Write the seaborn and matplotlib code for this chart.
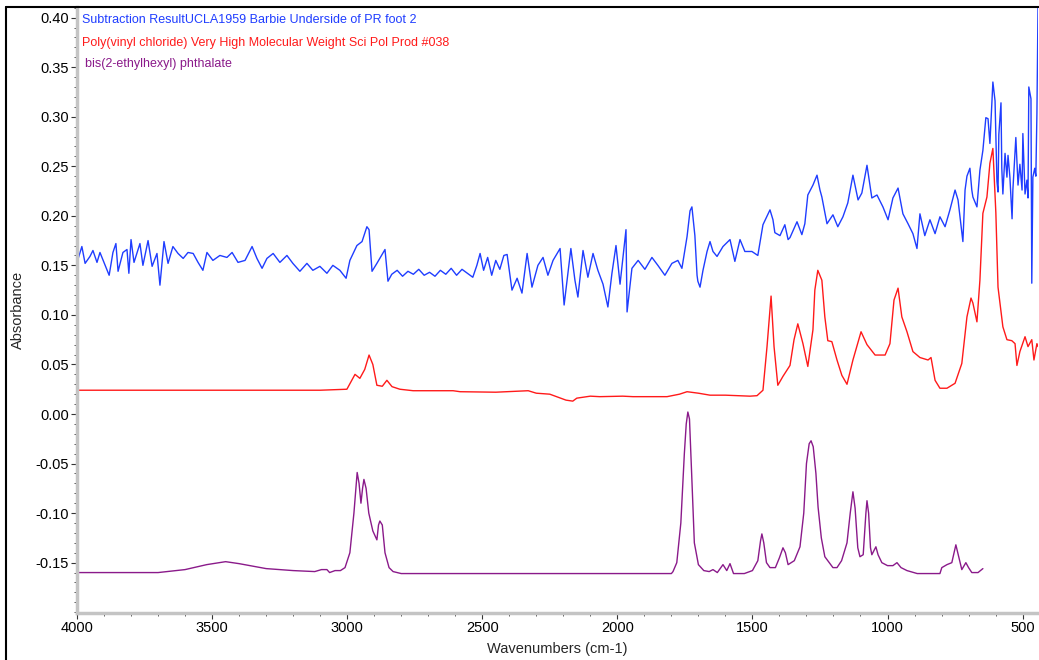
import numpy as np
import pandas as pd
import matplotlib
matplotlib.use("Agg")
import matplotlib.pyplot as plt
from matplotlib.ticker import MultipleLocator, FormatStrFormatter
from matplotlib.lines import Line2D
import seaborn as sns

# ---------------- data ----------------
blue_wn = [4000, 3982, 3970, 3952, 3941, 3926, 3915, 3896, 3881, 3867, 3856, 3848, 3830, 3815, 3808, 3800,
           3789, 3767, 3756, 3737, 3722, 3704, 3693, 3678, 3663, 3645, 3626, 3607, 3589, 3570, 3552, 3534,
           3519, 3497, 3471, 3445, 3426, 3404, 3378, 3352, 3334, 3315, 3297, 3274, 3249, 3223, 3201, 3175,
           3149, 3127, 3101, 3075, 3053, 3027, 3004, 2990, 2964, 2945, 2927, 2919, 2908, 2890, 2860, 2849,
           2835, 2815, 2795, 2775, 2755, 2735, 2715, 2695, 2675, 2655, 2635, 2615, 2595, 2575, 2555, 2535,
           2520, 2508, 2495, 2480, 2465, 2450, 2435, 2420, 2408, 2390, 2371, 2353, 2334, 2316, 2294, 2275,
           2257, 2238, 2212, 2197, 2172, 2157, 2146, 2127, 2109, 2090, 2072, 2053, 2035, 2020, 2005, 1990,
           1968, 1964, 1946, 1923, 1898, 1872, 1850, 1824, 1798, 1776, 1761, 1742, 1731, 1724, 1713, 1705,
           1702, 1694, 1683, 1668, 1657, 1646, 1631, 1609, 1583, 1565, 1546, 1528, 1502, 1480, 1461, 1435,
           1424, 1417, 1398, 1380, 1368, 1361, 1335, 1317, 1306, 1295, 1276, 1261, 1250, 1243, 1224, 1202,
           1184, 1165, 1147, 1128, 1109, 1095, 1076, 1065, 1058, 1039, 1017, 998, 980, 961, 943, 924,
           906, 891, 880, 862, 843, 824, 806, 787, 769, 750, 739, 721, 713, 706, 695, 688,
           684, 669, 658, 647, 636, 628, 621, 614, 610, 602, 595, 591, 588, 580, 577, 573,
           565, 558, 554, 547, 539, 536, 525, 517, 510, 502, 499, 491, 484, 480, 477, 469,
           466, 462, 455, 451, 447, 443]
blue_abs = [0.153, 0.169, 0.152, 0.159, 0.165, 0.153, 0.163, 0.150, 0.140, 0.163, 0.172, 0.144, 0.163, 0.166, 0.142, 0.176,
            0.153, 0.172, 0.150, 0.175, 0.149, 0.162, 0.130, 0.174, 0.152, 0.169, 0.162, 0.157, 0.163, 0.162, 0.153, 0.145,
            0.163, 0.155, 0.160, 0.158, 0.163, 0.153, 0.155, 0.169, 0.157, 0.147, 0.157, 0.162, 0.153, 0.160, 0.152, 0.144,
            0.152, 0.145, 0.149, 0.142, 0.150, 0.145, 0.137, 0.155, 0.170, 0.174, 0.189, 0.186, 0.144, 0.152, 0.166, 0.134,
            0.141, 0.145, 0.139, 0.144, 0.141, 0.146, 0.140, 0.143, 0.139, 0.145, 0.141, 0.147, 0.140, 0.146, 0.142, 0.138,
            0.150, 0.162, 0.145, 0.158, 0.140, 0.155, 0.146, 0.160, 0.161, 0.125, 0.137, 0.122, 0.162, 0.128, 0.150, 0.158,
            0.140, 0.155, 0.167, 0.110, 0.167, 0.135, 0.118, 0.165, 0.138, 0.162, 0.145, 0.131, 0.108, 0.142, 0.170, 0.131,
            0.186, 0.103, 0.147, 0.155, 0.146, 0.158, 0.150, 0.140, 0.152, 0.155, 0.147, 0.179, 0.205, 0.209, 0.180, 0.140,
            0.134, 0.128, 0.145, 0.164, 0.174, 0.164, 0.159, 0.169, 0.176, 0.154, 0.176, 0.164, 0.164, 0.160, 0.191, 0.206,
            0.196, 0.183, 0.180, 0.191, 0.176, 0.178, 0.194, 0.181, 0.192, 0.221, 0.231, 0.241, 0.226, 0.219, 0.192, 0.201,
            0.189, 0.199, 0.213, 0.241, 0.216, 0.223, 0.251, 0.231, 0.218, 0.221, 0.209, 0.196, 0.218, 0.228, 0.202, 0.192,
            0.182, 0.167, 0.202, 0.180, 0.196, 0.182, 0.199, 0.189, 0.206, 0.226, 0.216, 0.174, 0.226, 0.240, 0.248, 0.226,
            0.219, 0.209, 0.246, 0.266, 0.299, 0.298, 0.273, 0.312, 0.335, 0.316, 0.235, 0.224, 0.282, 0.314, 0.248, 0.222,
            0.263, 0.239, 0.261, 0.239, 0.197, 0.226, 0.279, 0.231, 0.252, 0.226, 0.283, 0.222, 0.236, 0.218, 0.330, 0.318,
            0.132, 0.239, 0.248, 0.240, 0.303, 0.410]

red_wn = [4000, 3500, 3100, 3001, 2985, 2971, 2953, 2935, 2919, 2905, 2890, 2870, 2853, 2834, 2805, 2756,
          2608, 2582, 2450, 2330, 2300, 2250, 2190, 2165, 2150, 2100, 2065, 1980, 1942, 1816, 1770, 1742,
          1700, 1657, 1600, 1509, 1483, 1461, 1446, 1431, 1420, 1406, 1387, 1361, 1346, 1332, 1313, 1295,
          1276, 1269, 1258, 1243, 1232, 1221, 1206, 1187, 1169, 1150, 1128, 1098, 1076, 1046, 1009, 991,
          976, 961, 947, 928, 906, 880, 850, 839, 824, 806, 780, 750, 725, 706, 691, 684,
          669, 658, 647, 632, 621, 610, 599, 591, 573, 558, 540, 528, 521, 510, 491, 480,
          466, 458, 447, 443]
red_abs = [0.024, 0.024, 0.024, 0.025, 0.033, 0.040, 0.036, 0.045, 0.0595, 0.050, 0.029, 0.028, 0.034, 0.0276, 0.025, 0.0235,
           0.0235, 0.0225, 0.022, 0.0235, 0.021, 0.020, 0.014, 0.013, 0.016, 0.018, 0.0175, 0.018, 0.0175, 0.0175, 0.020, 0.0225,
           0.021, 0.019, 0.019, 0.018, 0.0185, 0.024, 0.068, 0.119, 0.068, 0.029, 0.038, 0.049, 0.075, 0.091, 0.071, 0.048,
           0.085, 0.125, 0.145, 0.135, 0.098, 0.074, 0.073, 0.0545, 0.039, 0.030, 0.0545, 0.083, 0.070, 0.0595, 0.0595, 0.071,
           0.115, 0.127, 0.098, 0.083, 0.063, 0.057, 0.0545, 0.057, 0.034, 0.026, 0.026, 0.031, 0.051, 0.098, 0.117, 0.112,
           0.093, 0.135, 0.2025, 0.219, 0.253, 0.268, 0.203, 0.128, 0.088, 0.075, 0.074, 0.071, 0.049, 0.063, 0.078, 0.068,
           0.075, 0.0545, 0.071, 0.068]

purple_wn = [4000, 3700, 3600, 3520, 3450, 3400, 3300, 3200, 3120, 3095, 3075, 3065, 3045, 3025, 3008, 2990,
             2975, 2963, 2956, 2949, 2943, 2938, 2930, 2920, 2905, 2890, 2884, 2879, 2870, 2860, 2845, 2830,
             2800, 2500, 2200, 1800, 1794, 1780, 1765, 1752, 1745, 1739, 1733, 1725, 1715, 1700, 1680, 1660,
             1646, 1630, 1609, 1595, 1583, 1570, 1530, 1500, 1480, 1470, 1465, 1458, 1448, 1435, 1415, 1400,
             1387, 1378, 1368, 1345, 1324, 1310, 1300, 1290, 1283, 1275, 1265, 1257, 1245, 1232, 1202, 1187,
             1170, 1150, 1138, 1128, 1120, 1110, 1102, 1090, 1080, 1076, 1070, 1063, 1058, 1043, 1035, 1021,
             1000, 980, 965, 950, 928, 890, 806, 799, 780, 762, 747, 740, 725, 710, 700, 688,
             665, 647]
purple_abs = [-0.160, -0.160, -0.157, -0.152, -0.149, -0.151, -0.156, -0.158, -0.159, -0.157, -0.157, -0.160, -0.158, -0.158, -0.155, -0.140,
              -0.100, -0.059, -0.070, -0.090, -0.075, -0.066, -0.075, -0.100, -0.118, -0.127, -0.112, -0.108, -0.112, -0.140, -0.155, -0.159,
              -0.161, -0.161, -0.161, -0.161, -0.159, -0.150, -0.110, -0.040, -0.010, 0.002, -0.005, -0.060, -0.130, -0.152, -0.158, -0.159,
              -0.157, -0.160, -0.152, -0.158, -0.151, -0.161, -0.161, -0.158, -0.148, -0.128, -0.121, -0.130, -0.150, -0.155, -0.155, -0.145,
              -0.135, -0.140, -0.152, -0.148, -0.134, -0.100, -0.050, -0.030, -0.027, -0.033, -0.060, -0.094, -0.125, -0.144, -0.155, -0.155,
              -0.148, -0.130, -0.100, -0.0785, -0.095, -0.135, -0.144, -0.142, -0.100, -0.0875, -0.100, -0.135, -0.142, -0.134, -0.142, -0.150,
              -0.153, -0.153, -0.150, -0.155, -0.158, -0.161, -0.161, -0.155, -0.152, -0.150, -0.132, -0.140, -0.157, -0.150, -0.155, -0.160,
              -0.160, -0.156]

series_names = ["Subtraction ResultUCLA1959 Barbie Underside of PR foot 2",
                "Poly(vinyl chloride) Very High Molecular Weight Sci Pol Prod #038",
                "bis(2-ethylhexyl) phthalate"]
series_colors = ["#1f3dff", "#ff1a1a", "#8a1a8a"]

x_ticks = [4000, 3500, 3000, 2500, 2000, 1500, 1000, 500]
y_ticks = [-0.15, -0.10, -0.05, 0.00, 0.05, 0.10, 0.15, 0.20, 0.25, 0.30, 0.35, 0.40]

# ---------------- plotting ----------------
sns.set_theme(style="ticks")
plt.rcParams["font.family"] = ["Liberation Sans", "DejaVu Sans"]

W, H = 1039, 660
fig = plt.figure(figsize=(W / 100, H / 100), dpi=100)
ax = fig.add_axes([77 / W, 47 / H, (1038 - 77) / W, (613 - 7) / H])

frames = [
    pd.DataFrame({"wn": blue_wn, "abs": blue_abs}),
    pd.DataFrame({"wn": red_wn, "abs": red_abs}),
    pd.DataFrame({"wn": purple_wn, "abs": purple_abs}),
]
for df, col in zip(frames, series_colors):
    sns.lineplot(data=df, x="wn", y="abs", sort=False, estimator=None,
                 color=col, linewidth=1.0, ax=ax)

ax.set_xlim(4000, 443)
ax.set_ylim(-0.2008, 0.4107)
ax.set_xticks(x_ticks)
ax.set_yticks(y_ticks)
ax.xaxis.set_minor_locator(MultipleLocator(100))
ax.yaxis.set_minor_locator(MultipleLocator(0.01))
ax.yaxis.set_major_formatter(FormatStrFormatter("%.2f"))

for s in ["top", "right"]:
    ax.spines[s].set_visible(False)
for s in ["left", "bottom"]:
    ax.spines[s].set_color("#c4c4c4")
    ax.spines[s].set_linewidth(2.5)

ax.tick_params(axis="both", which="major", direction="out", length=4, width=0.8,
               color="#333333", labelsize=10.5, labelcolor="black", pad=2)
ax.tick_params(axis="both", which="minor", direction="out", length=2.5, width=0.7,
               color="#555555")

ax.set_xlabel("Wavenumbers (cm-1)", fontsize=10.5)
ax.set_ylabel("Absorbance", fontsize=10.5)
ax.xaxis.set_label_coords(0.5, (613 - 649) / 606)
ax.yaxis.set_label_coords((18 - 77) / 961, 0.5)
ax.xaxis.label.set_va("center")
ax.yaxis.label.set_va("center")

# legend-like title lines
ys = [(20 - 7) / 606, (43 - 7) / 606, (64 - 7) / 606]
xs = [(82 - 77) / 961, (82 - 77) / 961, (85 - 77) / 961]
for name, col, yy, xx in zip(series_names, series_colors, ys, xs):
    ax.text(xx, 1 - yy, name, color=col, transform=ax.transAxes, fontsize=9,
            ha="left", va="center")

# outer frame lines
fig.add_artist(Line2D([5.5 / W, 5.5 / W], [0, 1 - 7 / H], color="black", linewidth=1.5,
                      transform=fig.transFigure))
fig.add_artist(Line2D([5.5 / W, 1], [1 - 7 / H, 1 - 7 / H], color="black", linewidth=1.5,
                      transform=fig.transFigure))

fig.savefig("out.png", dpi=100)
